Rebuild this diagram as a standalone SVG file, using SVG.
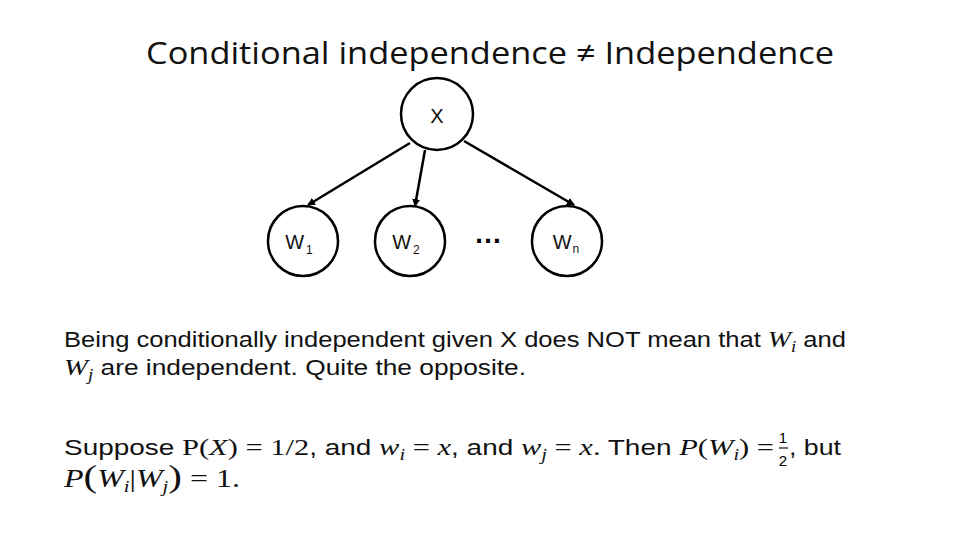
<svg xmlns="http://www.w3.org/2000/svg" width="960" height="540" viewBox="0 0 960 540">
<style>
.n{fill:#fff;stroke:#000;stroke-width:2.5}
.l{font-family:"Liberation Sans",sans-serif;font-size:20px;fill:#111}
.s{font-size:12px}
.b{font-family:"Liberation Sans",sans-serif;font-size:22px;fill:#111}
.m{font-family:"Liberation Serif",serif;font-style:italic}
.r{font-family:"Liberation Serif",serif}
.e{stroke:#000;stroke-width:2.5;fill:none;marker-end:url(#a)}
</style>
<defs><marker id="a" markerWidth="8" markerHeight="8" refX="7" refY="4" orient="auto" markerUnits="userSpaceOnUse"><path d="M0,0L8,4L0,8z" fill="#000"/></marker></defs>
<rect width="960" height="540" fill="#fff"/>
<text x="490" y="64" text-anchor="middle" font-family="Open Sans,sans-serif" font-size="31" fill="#111" textLength="688" lengthAdjust="spacingAndGlyphs">Conditional independence ≠ Independence</text>
<g id="edges">
<line class="e" x1="410" y1="143" x2="308" y2="205"/>
<line class="e" x1="425" y1="150" x2="415" y2="206"/>
<line class="e" x1="464" y1="141" x2="574" y2="205"/>
</g>
<g id="X"><circle class="n" cx="437" cy="114" r="36"/><text class="l" x="437" y="123" text-anchor="middle">X</text></g>
<g id="W1"><circle class="n" cx="303" cy="241" r="35"/><text class="l" x="299" y="249" text-anchor="middle">W<tspan class="s" dx="2" dy="5">1</tspan></text></g>
<g id="W2"><circle class="n" cx="410" cy="241" r="35"/><text class="l" x="406" y="249" text-anchor="middle">W<tspan class="s" dx="2" dy="5">2</tspan></text></g>
<text x="488" y="243" text-anchor="middle" font-family="Liberation Sans,sans-serif" font-size="28" font-weight="bold">…</text>
<g id="Wn"><circle class="n" cx="567" cy="241" r="35"/><text class="l" x="566" y="249" text-anchor="middle">W<tspan class="s" dx="1" dy="4">n</tspan></text></g>
<text class="b" x="64" y="347" textLength="782" lengthAdjust="spacingAndGlyphs">Being conditionally independent given X does NOT mean that <tspan class="m" font-size="24">W<tspan font-size="16" dy="5">i</tspan></tspan><tspan dy="-5"> and</tspan></text>
<text class="b" x="64" y="375" textLength="462" lengthAdjust="spacingAndGlyphs"><tspan class="m" font-size="24">W<tspan font-size="16" dy="5">j</tspan></tspan><tspan dy="-5"> are independent.  Quite the opposite.</tspan></text>
<text class="b" x="64" y="455" textLength="710" lengthAdjust="spacingAndGlyphs">Suppose <tspan class="r" font-size="24">P(<tspan class="m">X</tspan>) = 1/2</tspan>, and <tspan class="m" font-size="24">w<tspan font-size="16" dy="5">i</tspan></tspan><tspan class="r" font-size="24" dy="-5"> = <tspan class="m">x</tspan></tspan>, and <tspan class="m" font-size="24">w<tspan font-size="16" dy="5">j</tspan></tspan><tspan class="r" font-size="24" dy="-5"> = <tspan class="m">x</tspan>.</tspan> Then <tspan class="m" font-size="24">P</tspan><tspan class="r" font-size="24">(<tspan class="m">W<tspan font-size="16" dy="5">i</tspan></tspan><tspan dy="-5">) =</tspan></tspan></text>
<text x="783" y="443" font-family="Liberation Sans,sans-serif" font-size="15" text-anchor="middle">1</text>
<line x1="779" y1="448" x2="788" y2="448" stroke="#111" stroke-width="1.2"/>
<text x="783" y="466" font-family="Liberation Sans,sans-serif" font-size="15" text-anchor="middle">2</text>
<text class="b" x="789" y="455" textLength="52" lengthAdjust="spacingAndGlyphs">, but</text>
<text class="b" x="64" y="487" textLength="176" lengthAdjust="spacingAndGlyphs"><tspan class="m" font-size="25">P</tspan><tspan class="r" font-size="32">(</tspan><tspan class="m" font-size="25">W<tspan font-size="16" dy="5">i</tspan></tspan><tspan class="r" font-size="25" dy="-5">|</tspan><tspan class="m" font-size="25">W<tspan font-size="16" dy="5">j</tspan></tspan><tspan class="r" font-size="32" dy="-5">)</tspan><tspan class="r" font-size="25"> = 1.</tspan></text>
</svg>
